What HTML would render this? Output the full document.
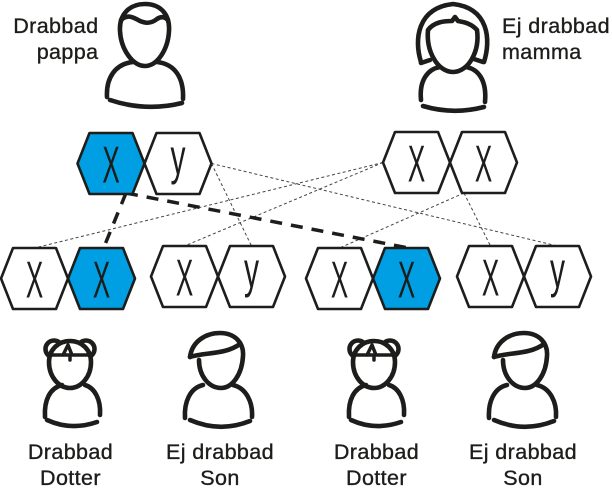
<!DOCTYPE html>
<html>
<head>
<meta charset="utf-8">
<style>
html,body{margin:0;padding:0;background:#fff;}
svg{display:block;}
.lbl{font-family:"Liberation Sans",Arial,sans-serif;font-size:21.5px;letter-spacing:0.4px;fill:#1d1d1b;stroke:#1d1d1b;stroke-width:0.35;}
.chr{font-family:"Liberation Sans",Arial,sans-serif;fill:#1d1d1b;}
.ic{fill:none;stroke:#1d1d1b;stroke-width:4.6;stroke-linecap:round;stroke-linejoin:round;}
.hx{stroke:#1d1d1b;stroke-width:2.6;stroke-linejoin:round;}
</style>
</head>
<body>
<svg width="612" height="494" viewBox="0 0 612 494" xmlns="http://www.w3.org/2000/svg">
<defs>
  <polygon id="hex" points="0,30.5 12,0 55,0 67,30.5 55,61 12,61"/>
</defs>

<!-- thin dashed connectors -->
<g stroke="#444" stroke-width="1" stroke-dasharray="3 2.5" fill="none">
  <line x1="383" y1="162.5" x2="34.5" y2="248"/>
  <line x1="383" y1="162.5" x2="184.5" y2="246"/>
  <line x1="211.5" y1="163.5" x2="251.5" y2="246"/>
  <line x1="211.5" y1="163.5" x2="557.5" y2="246"/>
  <line x1="464" y1="193" x2="339.5" y2="248"/>
  <line x1="464" y1="193" x2="490.5" y2="246"/>
</g>
<!-- thick dashed connectors -->
<g stroke="#1d1d1b" stroke-width="3.5" stroke-dasharray="12 9" fill="none">
  <line x1="126" y1="193" x2="104" y2="247"/>
  <line x1="126" y1="193" x2="406" y2="247.5"/>
</g>

<!-- hexagons -->
<use href="#hex" x="77.5" y="133" class="hx" fill="#009ee2"/>
<use href="#hex" x="144.5" y="133" class="hx" fill="#fff"/>
<use href="#hex" x="383" y="132" class="hx" fill="#fff"/>
<use href="#hex" x="450" y="132" class="hx" fill="#fff"/>

<use href="#hex" x="1" y="248" class="hx" fill="#fff"/>
<use href="#hex" x="68" y="248" class="hx" fill="#009ee2"/>
<use href="#hex" x="151" y="246" class="hx" fill="#fff"/>
<use href="#hex" x="218" y="246" class="hx" fill="#fff"/>
<use href="#hex" x="306" y="248" class="hx" fill="#fff"/>
<use href="#hex" x="373" y="248" class="hx" fill="#009ee2"/>
<use href="#hex" x="457" y="246" class="hx" fill="#fff"/>
<use href="#hex" x="524" y="246" class="hx" fill="#fff"/>

<!-- chromosome letters -->
<g class="chr" text-anchor="middle">
  <text font-size="52" transform="translate(111,182.5) scale(0.5,1)">X</text>
  <text font-size="50" transform="translate(178,174) scale(0.6,1)">y</text>
  <text font-size="52" transform="translate(416.5,181.5) scale(0.5,1)">X</text>
  <text font-size="52" transform="translate(483.5,181.5) scale(0.5,1)">X</text>

  <text font-size="52" transform="translate(34.5,297.5) scale(0.5,1)">X</text>
  <text font-size="52" transform="translate(101.5,297.5) scale(0.5,1)">X</text>
  <text font-size="52" transform="translate(184.5,295.5) scale(0.5,1)">X</text>
  <text font-size="50" transform="translate(251.5,287) scale(0.6,1)">y</text>
  <text font-size="52" transform="translate(339.5,297.5) scale(0.5,1)">X</text>
  <text font-size="52" transform="translate(406.5,297.5) scale(0.5,1)">X</text>
  <text font-size="52" transform="translate(490.5,295.5) scale(0.5,1)">X</text>
  <text font-size="50" transform="translate(557.5,287) scale(0.6,1)">y</text>
</g>

<!-- father icon -->
<g class="ic">
  <path d="M145,4 C161,4 170,15 169,31 C168,50 157,66 145,66 C133,66 121,50 120,31 C119,15 129,4 145,4 Z"/>
  <path d="M121,20 C127,14 133,17 140,21 C147,24 152,23 157,19 C161,16 165,17 168,20"/>
  <path d="M107,97 C106,78 115,64 133,62"/>
  <path d="M157,62 C175,64 184,78 183,99"/>
  <path d="M110,100 Q146,112 182,103"/>
</g>

<!-- mother icon -->
<g class="ic">
  <path d="M421,62 C414,40 417,8 453,4 C489,8 491,40 484,62"/>
  <path d="M421,63 L430,60"/>
  <path d="M483,62 L474,59"/>
  <path d="M428,30 C426,52 438,72 453,72 C468,72 480,52 477,30 C471,23 463,22 458,21 L455,17 L452,21 C444,21 434,22 428,30 Z"/>
  <path d="M421,100 C419,80 428,69 440,67"/>
  <path d="M466,67 C478,69 487,80 485,102"/>
  <path d="M423,106 Q453,115 484,107"/>
</g>

<!-- daughter icon -->
<g id="dau">
  <circle cx="54" cy="349" r="8.5" class="ic"/>
  <circle cx="86" cy="349" r="8.5" class="ic"/>
  <path d="M70,341 C82,341 91,350 91,362 C91,377 81,388 70,388 C59,388 49,377 49,362 C49,350 58,341 70,341 Z" class="ic" style="fill:#fff"/>
  <path class="ic" style="stroke-width:3.5" d="M50,355 L90,355 M63,355 L68,345 L72,355 M70,355 L70,360"/>
  <path class="ic" d="M45,417 C44,400 50,388 62,385"/>
  <path class="ic" d="M85,385 C95,388 101,400 100,415"/>
  <path class="ic" d="M47,420 Q71,431 97,422"/>
</g>
<use href="#dau" x="304" y="0"/>

<!-- son icon -->
<g id="son" class="ic">
  <path d="M190,357 C192,342 205,333 220,333 C235,333 244,343 243,356 C242,375 232,388 221,388 C209,388 199,376 199,360"/>
  <path d="M190,357 C205,352 225,355 240,344"/>
  <path d="M185,418 C184,402 190,388 203,385"/>
  <path d="M233,385 C246,388 253,402 252,417"/>
  <path d="M190,420 Q220,433 250,421"/>
</g>
<use href="#son" x="304" y="0"/>

<!-- labels -->
<g class="lbl">
  <text x="98.5" y="33" text-anchor="end">Drabbad</text>
  <text x="98.5" y="59" text-anchor="end">pappa</text>
  <text x="502" y="33">Ej drabbad</text>
  <text x="502" y="59">mamma</text>

  <text x="70.5" y="459" text-anchor="middle">Drabbad</text>
  <text x="70.5" y="485" text-anchor="middle">Dotter</text>
  <text x="220" y="459" text-anchor="middle">Ej drabbad</text>
  <text x="220" y="485" text-anchor="middle">Son</text>
  <text x="376.5" y="459" text-anchor="middle">Drabbad</text>
  <text x="376.5" y="485" text-anchor="middle">Dotter</text>
  <text x="523" y="459" text-anchor="middle">Ej drabbad</text>
  <text x="523" y="485" text-anchor="middle">Son</text>
</g>
</svg>
</body>
</html>
